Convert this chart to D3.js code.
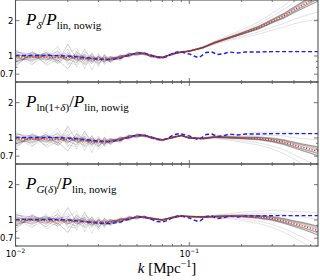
<!DOCTYPE html>
<html>
<head>
<meta charset="utf-8">
<script src="https://cdn.jsdelivr.net/npm/d3@7/dist/d3.min.js"></script>
<style>
  body { margin: 0; background: #fff; }
  svg { display: block; }
  .ylab { font-family: "DejaVu Sans", sans-serif; font-size: 8.5px; fill: #000; }
  .xlab { font-family: "DejaVu Sans", sans-serif; fill: #000; }
  .math { font-family: "Liberation Serif", "Times New Roman", serif; fill: #000; }
</style>
</head>
<body>
<div id="chart"></div>
<script>
// k bins shared by the simulation curves
var kGrid = [0.010, 0.0125, 0.015, 0.0175, 0.020, 0.0225, 0.025, 0.0275, 0.030, 0.0325,
             0.035, 0.040, 0.045, 0.050, 0.055, 0.060, 0.070, 0.080, 0.090, 0.100,
             0.120, 0.140, 0.170, 0.200, 0.250, 0.300, 0.350, 0.400, 0.450, 0.500, 0.550];

// mean of the realizations (red dotted), one per panel
var meanDelta = [0.98, 0.98, 0.98, 0.97, 0.97, 0.96, 0.95, 0.95, 0.94, 0.94,
                 0.94, 0.97, 1.02, 1.05, 1.05, 1.00, 0.97, 1.04, 1.08, 1.10,
                 1.18, 1.30, 1.43, 1.55, 1.74, 1.98, 2.20, 2.47, 2.72, 2.96, 3.20];
var meanLog   = [0.98, 0.98, 0.98, 0.97, 0.97, 0.96, 0.95, 0.94, 0.93, 0.93,
                 0.94, 0.97, 1.02, 1.05, 1.05, 1.01, 0.96, 1.01, 1.05, 1.00,
                 0.99, 1.02, 1.01, 1.00, 0.99, 0.96, 0.92, 0.87, 0.83, 0.80, 0.77];
var meanGauss = [1.00, 1.00, 0.99, 0.99, 0.98, 0.97, 0.97, 0.96, 0.95, 0.95,
                 0.96, 0.99, 1.03, 1.06, 1.06, 1.03, 1.00, 1.05, 1.08, 1.07,
                 1.06, 1.07, 1.08, 1.08, 1.06, 1.03, 0.98, 0.93, 0.89, 0.85, 0.81];

// linear wiggle ratio (blue dashed)
var kLin   = [0.010, 0.015, 0.020, 0.025, 0.030, 0.035, 0.040, 0.045, 0.050, 0.055,
              0.060, 0.065, 0.070, 0.075, 0.080, 0.085, 0.090, 0.100, 0.110, 0.115,
              0.125, 0.135, 0.145, 0.155, 0.170, 0.190, 0.210, 0.250, 0.300, 0.400, 0.550];
var linWig = [1.01, 1.01, 1.00, 0.97, 0.94, 0.93, 0.96, 1.02, 1.06, 1.06,
              1.02, 0.97, 0.96, 0.99, 1.05, 1.08, 1.08, 1.04, 0.98, 0.98,
              1.07, 1.08, 1.03, 1.04, 1.08, 1.06, 1.08, 1.08, 1.09, 1.09, 1.09];

// individual realizations close to the mean, as ratio to the mean
var coreRatio = [
  [1.08,0.95,1.10,0.92,1.30,0.98,0.90,1.05,0.96,1.04,0.97,1.02,0.98,1.01,0.99,1.00,1.01,0.99,1.00,1.01,1.00,1.01,1.01,1.02,1.03,1.04,1.05,1.06,1.07,1.08,1.09],
  [0.90,1.04,0.88,1.06,0.93,1.12,1.02,0.94,1.05,0.97,1.03,0.98,1.02,0.99,1.01,1.00,0.99,1.01,1.00,0.99,1.00,0.99,0.99,0.99,0.98,0.97,0.96,0.95,0.94,0.93,0.92],
  [1.12,1.00,0.94,1.08,0.97,0.91,1.20,0.95,1.02,0.94,1.04,0.97,1.03,0.98,1.00,1.02,1.00,1.00,1.01,1.00,1.01,1.00,1.01,1.01,1.02,1.02,1.03,1.04,1.05,1.06,1.06],
  [0.85,1.08,1.02,0.95,0.80,1.06,0.96,1.10,0.93,1.03,0.98,1.03,0.97,1.02,0.99,0.98,1.01,1.00,0.99,1.00,0.99,1.00,0.99,0.99,0.99,0.98,0.98,0.97,0.97,0.96,0.96],
  [1.00,0.92,1.05,1.03,1.10,0.94,1.05,0.90,1.08,1.00,0.95,1.04,0.99,0.97,1.02,1.00,0.99,1.01,1.00,1.00,1.01,1.00,1.00,1.00,1.01,1.01,1.01,1.02,1.02,1.02,1.03],
  [0.95,1.10,0.97,0.90,1.02,1.05,0.93,1.02,0.97,1.08,1.00,0.96,1.02,1.00,0.98,1.01,1.00,0.99,1.00,1.01,1.00,1.00,1.00,0.99,0.99,0.98,0.98,0.98,0.97,0.97,0.97],
  [1.05,0.98,1.03,1.12,0.95,1.02,1.08,1.00,0.91,1.02,1.05,1.00,0.98,1.03,1.01,0.99,1.01,1.00,1.00,0.99,1.00,1.01,1.01,1.01,1.02,1.03,1.04,1.05,1.06,1.07,1.08],
  [0.93,1.02,1.08,0.98,1.04,0.96,0.99,1.06,1.00,0.95,1.02,1.01,1.03,0.98,1.00,1.01,0.99,1.00,1.01,1.00,0.99,0.99,0.99,0.99,0.98,0.97,0.96,0.95,0.94,0.93,0.92],
  [1.04,1.02,0.96,1.00,1.06,0.97,1.03,0.98,1.04,0.99,1.01,0.98,1.01,1.00,1.01,0.99,1.00,1.00,1.00,1.00,1.00,1.00,1.01,1.01,1.02,1.02,1.03,1.03,1.04,1.04,1.05],
  [0.97,0.94,1.03,1.05,0.98,1.08,0.97,1.03,0.98,1.05,0.96,1.02,0.99,1.01,0.99,1.01,1.00,1.00,0.99,1.00,1.00,0.99,0.99,0.99,0.98,0.98,0.97,0.97,0.96,0.96,0.95],
  [1.10,1.06,0.99,0.94,1.03,1.00,1.06,0.93,1.03,0.98,1.02,0.99,1.00,0.99,1.00,1.00,1.01,0.99,1.00,1.00,1.00,1.01,1.01,1.02,1.03,1.04,1.05,1.06,1.07,1.08,1.09],
  [0.92,0.99,1.06,1.02,0.95,1.04,1.00,0.97,1.06,0.96,1.00,1.03,0.98,1.02,1.00,0.99,1.00,1.01,1.00,0.99,1.00,0.99,0.99,0.98,0.97,0.96,0.95,0.94,0.93,0.92,0.91]
];
// realizations far from the mean
var outerRatio = [
  [1.18,0.88,1.00,1.25,0.86,1.15,0.82,1.12,0.90,1.08,0.94,1.05,0.95,1.04,0.97,1.02,0.98,1.02,0.99,1.01,1.02,1.03,1.05,1.08,1.12,1.17,1.22,1.27,1.32,1.37,1.42],
  [0.82,1.12,0.85,0.96,1.18,0.84,1.10,0.80,1.06,0.92,1.06,0.94,1.04,0.96,1.03,0.97,1.02,0.98,1.01,0.99,0.98,0.97,0.95,0.92,0.88,0.84,0.80,0.76,0.72,0.68,0.64],
  [1.02,0.86,1.15,0.88,1.08,1.22,0.88,0.98,1.12,0.90,1.00,1.06,0.96,1.02,0.97,1.03,1.00,0.98,1.01,1.00,0.99,0.98,0.97,0.95,0.92,0.89,0.86,0.83,0.80,0.77,0.74],
  [0.88,1.06,0.92,1.15,0.90,0.88,1.14,1.04,0.86,1.10,0.93,1.02,1.05,0.95,1.02,0.99,1.01,1.01,0.99,1.00,1.01,1.02,1.03,1.04,1.07,1.10,1.13,1.16,1.19,1.22,1.25]
];

var yTickVals = [0.7, 1, 2];
var yTickText = ["0.7", "1", "2"];
var yMinorVals = [0.6, 0.8, 0.9, 3];
var xMajorVals = [0.01, 0.1];
var xMajorExp = ["\u22122", "\u22121"];
var xMinorVals = [0.02, 0.03, 0.04, 0.05, 0.06, 0.07, 0.08, 0.09, 0.2, 0.3, 0.4, 0.5];

// panel titles: pieces of [text, italic, subscript]
var panelTitles = [
  [["P", 1, 0], ["\u03b4", 1, 1], ["/", 0, 0], ["P", 1, 0], ["lin, nowig", 0, 1]],
  [["P", 1, 0], ["ln(1+", 0, 1], ["\u03b4", 1, 1], [")", 0, 1], ["/", 0, 0], ["P", 1, 0], ["lin, nowig", 0, 1]],
  [["P", 1, 0], ["G", 1, 1], ["(", 0, 1], ["\u03b4", 1, 1], [")", 0, 1], ["/", 0, 0], ["P", 1, 0], ["lin, nowig", 0, 1]]
];
var panelMeans = [meanDelta, meanLog, meanGauss];

var W = 320, H = 280,
    left = 15.5, right = 318,
    panelH = 82, panelTop = [0, 82, 164];

var svg = d3.select("#chart").append("svg")
    .attr("width", W).attr("height", H);

var x = d3.scaleLog().domain([0.01, 0.55]).range([left, right]);

var line = function(y) {
  return d3.line().x(function(d) { return x(d[0]); }).y(function(d) { return y(d[1]); });
};

panelTop.forEach(function(top, p) {
  var y = d3.scaleLog().domain([0.6, 3]).range([top + panelH, top]);
  var g = svg.append("g");

  g.append("clipPath").attr("id", "clip" + p)
    .append("rect").attr("x", left).attr("y", top).attr("width", right - left).attr("height", panelH);

  var plot = g.append("g").attr("clip-path", "url(#clip" + p + ")");
  var mean = panelMeans[p];

  var drawReal = function(r, opacity) {
    var pts = kGrid.map(function(k, i) { return [k, mean[i] * r[i]]; });
    plot.append("path").attr("d", line(y)(pts))
      .attr("fill", "none").attr("stroke", "#3a3a3a")
      .attr("stroke-opacity", opacity).attr("stroke-width", 0.9);
  };
  outerRatio.forEach(function(r) { drawReal(r, 0.16); });
  coreRatio.forEach(function(r) { drawReal(r, 0.26); });

  plot.append("path")
    .attr("d", line(y)(kLin.map(function(k, i) { return [k, linWig[i]]; })))
    .attr("fill", "none").attr("stroke", "#1a1aff").attr("stroke-width", 1.4)
    .attr("stroke-dasharray", "4,2.5");

  plot.append("path")
    .attr("d", line(y)(kGrid.map(function(k, i) { return [k, mean[i]]; })))
    .attr("fill", "none").attr("stroke", "#ff2020").attr("stroke-width", 1.4)
    .attr("stroke-dasharray", "1.2,1.6");

  // frame
  g.append("rect").attr("x", left).attr("y", top).attr("width", right - left).attr("height", panelH)
    .attr("fill", "none").attr("stroke", "#555").attr("stroke-width", 1.1);

  // y ticks (inside, both sides)
  yTickVals.concat(yMinorVals).forEach(function(v, i) {
    var len = i < yTickVals.length ? 4 : 2;
    g.append("line").attr("x1", left).attr("x2", left + len).attr("y1", y(v)).attr("y2", y(v))
      .attr("stroke", "#555").attr("stroke-width", 0.8);
    g.append("line").attr("x1", right).attr("x2", right - len).attr("y1", y(v)).attr("y2", y(v))
      .attr("stroke", "#555").attr("stroke-width", 0.8);
  });
  yTickVals.forEach(function(v, i) {
    g.append("text").attr("class", "ylab").attr("x", left - 2).attr("y", y(v))
      .attr("dy", "0.35em").attr("text-anchor", "end").text(yTickText[i]);
  });

  // x ticks (inside, top and bottom)
  xMajorVals.concat(xMinorVals).forEach(function(v, i) {
    var len = i < xMajorVals.length ? 4 : 2;
    g.append("line").attr("x1", x(v)).attr("x2", x(v)).attr("y1", top + panelH).attr("y2", top + panelH - len)
      .attr("stroke", "#555").attr("stroke-width", 0.8);
    g.append("line").attr("x1", x(v)).attr("x2", x(v)).attr("y1", top).attr("y2", top + len)
      .attr("stroke", "#555").attr("stroke-width", 0.8);
  });

  // panel title
  var t = g.append("text").attr("class", "math").attr("x", 26);
  var base = top + 25;
  panelTitles[p].forEach(function(piece) {
    t.append("tspan")
      .attr("y", piece[2] ? base + 3.5 : base)
      .attr("font-size", piece[2] ? "11px" : "17px")
      .attr("font-style", piece[1] ? "italic" : "normal")
      .text(piece[0]);
  });
});

// x tick labels
xMajorVals.forEach(function(v, i) {
  var t = svg.append("text").attr("class", "xlab").attr("x", x(v)).attr("y", 257)
    .attr("text-anchor", "middle");
  t.append("tspan").attr("font-size", "8.5px").text("10");
  t.append("tspan").attr("font-size", "6px").attr("dy", -4).text(xMajorExp[i]);
});

// x axis label
var xl = svg.append("text").attr("class", "math").attr("x", 167).attr("y", 273)
  .attr("text-anchor", "middle").attr("font-size", "15px");
xl.append("tspan").attr("font-style", "italic").text("k");
xl.append("tspan").text(" [Mpc");
xl.append("tspan").attr("font-size", "10px").attr("dy", -6).text("\u22121");
xl.append("tspan").attr("dy", 6).text("]");
</script>
</body>
</html>
